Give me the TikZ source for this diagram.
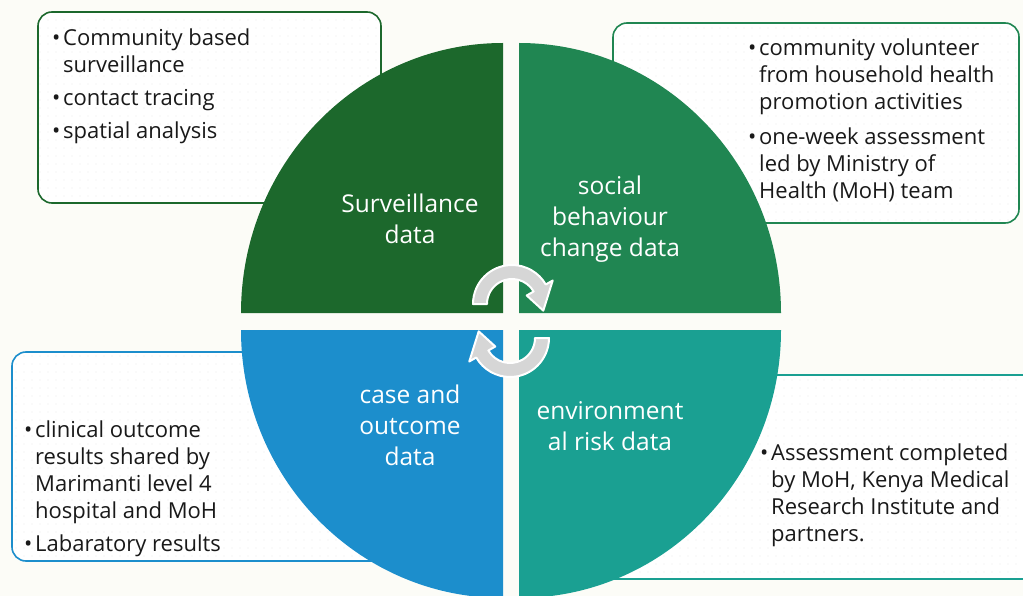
\documentclass[tikz,border=0pt]{standalone}
\usepackage{fontspec}
\setmainfont{Open Sans}
\usetikzlibrary{positioning,calc,patterns.meta}

\definecolor{survgreen}{RGB}{28,104,44}
\definecolor{socgreen}{RGB}{32,134,82}
\definecolor{caseblue}{RGB}{28,142,204}
\definecolor{envteal}{RGB}{26,160,146}
\definecolor{paper}{RGB}{252,252,247}

% bullet with a hanging indent
\newcommand{\bul}{\makebox[11pt][l]{\textbullet}}
\newcommand{\hang}{\hspace*{11pt}}

\begin{document}
\begin{tikzpicture}[x=1pt,y=-1pt,
  infobox/.style={rounded corners=14pt, fill=white,
    postaction={pattern={Dots[distance=8pt,radius=0.45pt]}, pattern color=black!22},
    postaction={draw=#1, line width=1.6pt}},
  listtext/.style={inner sep=0pt, anchor=north west, align=left,
    font=\fontsize{22}{27}\selectfont, text=black!90},
  qlabel/.style={inner sep=0pt, align=center, text=white,
    font=\fontsize{24.5}{31}\selectfont},
  cyclearrow/.style={fill=black!16, draw=white, line width=2pt, line join=round}]

% page
\fill[paper] (0,0) rectangle (1023,596);
\clip (0,0) rectangle (1023,596);

% the four note boxes, under the disc
\path[infobox=survgreen] (38,12) rectangle (381,203);
\path[infobox=socgreen] (613,23) rectangle (1019,223);
\path[infobox=caseblue] (12,352) rectangle (480,561);
\path[infobox=envteal] (560,375) rectangle (1040,579);

% the disc, split in quarters
\fill[survgreen] (503,313) -- (241,313) arc[start angle=180, end angle=270, x radius=262, y radius=270] -- cycle;
\fill[socgreen] (519,313) -- (519,43) arc[start angle=270, end angle=360, x radius=262, y radius=270] -- cycle;
\fill[caseblue] (503,330) -- (503,598) arc[start angle=90, end angle=180, x radius=262, y radius=268] -- cycle;
\fill[envteal] (519,330) -- (781,330) arc[start angle=0, end angle=90, x radius=262, y radius=268] -- cycle;

% quarter titles
\node[qlabel] (surv) at (410,219) {Surveillance\\data};
\node[qlabel] (social) at (610,219) {social\\behaviour\\change data};
\node[qlabel] (case) at (410,425) {case and\\outcome\\data};
\node[qlabel] (env) at (610,426) {environment\\al risk data};

% notes
\node[listtext] (survlist) at (52,29) {\bul Community based\\ \hang surveillance\\[6pt]
  \bul contact tracing\\[6pt] \bul spatial analysis};
\node[listtext] (sociallist) at (748,39) {\bul community volunteer\\ \hang from household health\\
  \hang promotion activities\\[8pt] \bul one-week assessment\\ \hang led by Ministry of\\
  \hang Health (MoH) team};
\node[listtext] (caselist) at (24,421) {\bul clinical outcome\\ \hang results shared by\\
  \hang Marimanti level 4\\ \hang hospital and MoH\\[6pt] \bul Labaratory results};
\node[listtext] (envlist) at (760,444) {\bul Assessment completed\\ \hang by MoH, Kenya Medical\\
  \hang Research Institute and\\ \hang partners.};

% cycle arrows in the middle
\coordinate (topc) at (512,304);
\coordinate (botc) at (510,338);
\filldraw[cyclearrow] ($(topc)+(180:39)$) arc[start angle=180, end angle=330, radius=39]
  -- ($(topc)+(330:47)$) -- ($(topc)+(12:32)$) -- ($(topc)+(330:17)$)
  -- ($(topc)+(330:25)$) arc[start angle=330, end angle=180, radius=25] -- cycle;
\filldraw[cyclearrow] ($(botc)+(0:39)$) arc[start angle=0, end angle=150, radius=39]
  -- ($(botc)+(150:47)$) -- ($(botc)+(192:32)$) -- ($(botc)+(150:17)$)
  -- ($(botc)+(150:25)$) arc[start angle=150, end angle=0, radius=25] -- cycle;
\end{tikzpicture}
\end{document}
